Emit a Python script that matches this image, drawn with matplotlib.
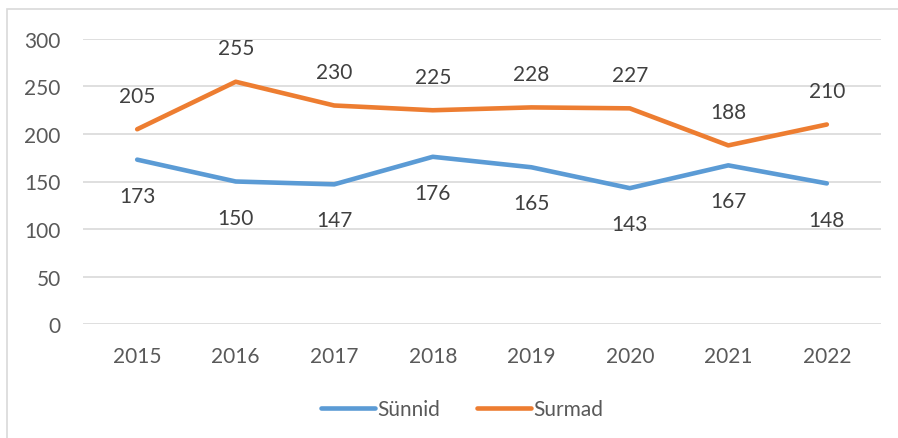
import matplotlib
matplotlib.use('Agg')
from matplotlib import pyplot as plt
from matplotlib.patches import Rectangle

years = ['2015', '2016', '2017', '2018', '2019', '2020', '2021', '2022']
synnid = [173, 150, 147, 176, 165, 143, 167, 148]
surmad = [205, 255, 230, 225, 228, 227, 188, 210]

plt.rcParams['font.family'] = ['Lato', 'DejaVu Sans']
text_color = '#595959'
fs = 15

fig = plt.figure(figsize=(8.98, 4.39), dpi=100)
ax = fig.add_axes([83 / 898, 1 - 325 / 439, 798 / 898, 285 / 439])

# chart border like in the Excel export
fig.patches.append(Rectangle((7 / 898, -0.1), 1.1, 1.1 - 10 / 439,
                             transform=fig.transFigure, fill=False,
                             edgecolor='#D9D9D9', linewidth=1.2))

x = list(range(len(years)))
ax.plot(x, synnid, color='#5B9BD5', linewidth=3.3, label='Sünnid',
        solid_capstyle='round')
ax.plot(x, surmad, color='#ED7D31', linewidth=3.3, label='Surmad',
        solid_capstyle='round')

for i, v in enumerate(surmad):
    ax.annotate(str(v), (i, v), xytext=(0, 24), textcoords='offset points',
                ha='center', va='center', fontsize=fs, color='#404040')
for i, v in enumerate(synnid):
    ax.annotate(str(v), (i, v), xytext=(0, -26), textcoords='offset points',
                ha='center', va='center', fontsize=fs, color='#404040')

ax.set_xlim(-0.55, 7.55)
ax.set_ylim(0, 300)
ax.set_yticks(range(0, 301, 50))
ax.set_xticks(x)
ax.set_xticklabels(years)
ax.grid(axis='y', color='#D9D9D9', linewidth=1.2)
ax.set_axisbelow(True)
for s in ax.spines.values():
    s.set_visible(False)
ax.tick_params(axis='both', length=0, labelsize=fs, labelcolor=text_color)
ax.tick_params(axis='y', pad=16)
ax.tick_params(axis='x', pad=16)

ax.legend(loc='center', bbox_to_anchor=(462 / 898, 1 - 410 / 439),
          bbox_transform=fig.transFigure, ncol=2, frameon=False,
          fontsize=fs, labelcolor=text_color, handlelength=2.6,
          handletextpad=0.1, columnspacing=1.8)

plt.savefig('out.png', dpi=100)
